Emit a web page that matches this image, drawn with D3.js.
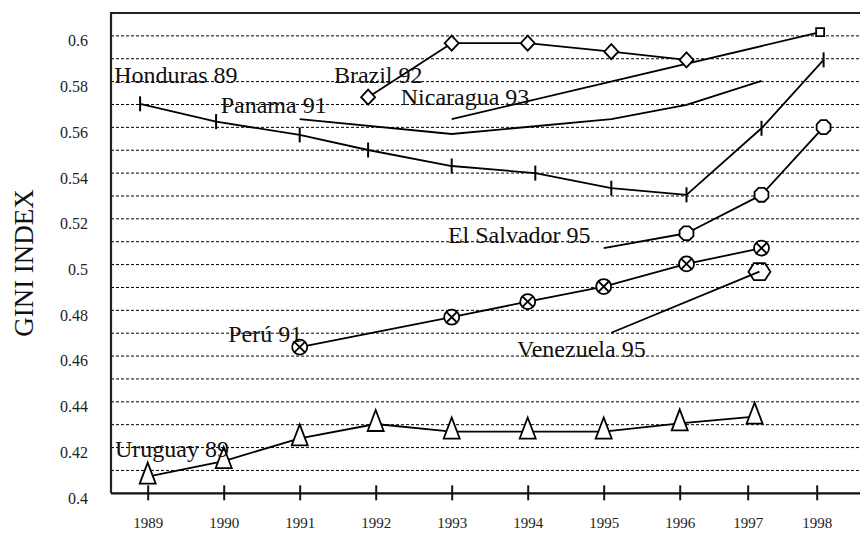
<!DOCTYPE html>
<html>
<head>
<meta charset="utf-8">
<script src="https://cdn.jsdelivr.net/npm/d3@7"></script>
<style>
  body { margin: 0; background: #fff; overflow: hidden; }
  svg { display: block; font-family: "Liberation Serif", "Times New Roman", serif; }
</style>
</head>
<body>
<div id="chart"></div>
<script>
// survey dates are fractional years, so points sit a little off the year ticks
var years = [1989, 1990, 1991, 1992, 1993, 1994, 1995, 1996, 1997, 1998];
var yTicks = [0.4, 0.42, 0.44, 0.46, 0.48, 0.5, 0.52, 0.54, 0.56, 0.58, 0.6];
var yTickLabels = ["0.4", "0.42", "0.44", "0.46", "0.48", "0.5", "0.52", "0.54", "0.56", "0.58", "0.6"];
var gridValues = d3.range(41, 61).map(function(d) { return d / 100; });

var hondurasYears = [1988.9, 1989.9, 1991.0, 1991.9, 1993.0, 1994.1, 1995.1, 1996.1, 1997.2, 1998.1];
var hondurasGini = [0.5703, 0.5625, 0.5567, 0.5501, 0.5431, 0.5400, 0.5334, 0.5305, 0.5596, 0.5895];

var brazilYears = [1991.9, 1993.0, 1994.0, 1995.1, 1996.1];
var brazilGini = [0.5732, 0.5968, 0.5968, 0.5931, 0.5895];

var nicaraguaYears = [1993.0, 1998.05];
var nicaraguaGini = [0.5636, 0.6016];

var panamaYears = [1991.0, 1993.0, 1995.1, 1996.1, 1997.2];
var panamaGini = [0.5636, 0.5571, 0.5636, 0.5698, 0.5803];

var salvadorYears = [1995.0, 1996.1, 1997.2, 1998.1];
var salvadorGini = [0.5072, 0.5137, 0.5305, 0.5601];

var peruYears = [1991.0, 1993.0, 1994.0, 1995.0, 1996.1, 1997.2];
var peruGini = [0.4639, 0.4770, 0.4838, 0.4904, 0.5003, 0.5072];

var venezuelaYears = [1995.1, 1997.17];
var venezuelaGini = [0.4702, 0.4969];

var uruguayYears = [1989.0, 1990.0, 1991.0, 1992.0, 1993.0, 1994.0, 1995.0, 1996.0, 1997.1];
var uruguayGini = [0.4073, 0.4141, 0.4240, 0.4303, 0.4270, 0.4270, 0.4270, 0.4306, 0.4335];

var labelNames = ["Honduras 89", "Brazil 92", "Panama 91", "Nicaragua 93", "El Salvador 95", "Perú 91", "Venezuela 95", "Uruguay 89"];
var labelYears = [1988.56, 1991.45, 1989.96, 1992.33, 1992.95, 1990.06, 1993.86, 1988.57];
var labelGini = [0.5793, 0.5794, 0.5664, 0.5698, 0.5096, 0.4663, 0.4597, 0.4160];

function zipSeries(xs, ys) {
  return xs.map(function(x, i) { return { x: x, y: ys[i] }; });
}

var series = [
  { values: zipSeries(hondurasYears, hondurasGini), marker: 'tick', first: 0 },
  { values: zipSeries(brazilYears, brazilGini), marker: 'diamond', first: 0 },
  { values: zipSeries(nicaraguaYears, nicaraguaGini), marker: 'square', first: 1 },
  { values: zipSeries(panamaYears, panamaGini), marker: null, first: 0 },
  { values: zipSeries(salvadorYears, salvadorGini), marker: 'octagon', first: 1 },
  { values: zipSeries(peruYears, peruGini), marker: 'xcircle', first: 0 },
  { values: zipSeries(venezuelaYears, venezuelaGini), marker: 'hexagon', first: 1 },
  { values: zipSeries(uruguayYears, uruguayGini), marker: 'triangle', first: 0 }
];

var width = 860, height = 534;
var left = 111, right = 860;

var svg = d3.select('#chart').append('svg')
  .attr('width', width)
  .attr('height', height);

// the scanned axis is not evenly spaced after 1996
var x = d3.scaleLinear()
  .domain([1989, 1996, 1997, 1998])
  .range([147.7, 679.7, 747.7, 816.7]);

var y = d3.scaleLinear()
  .domain([0.4, 0.61])
  .range([493.3, 13]);

// dashed grid
svg.append('g')
  .selectAll('line')
  .data(gridValues)
  .enter()
  .append('line')
  .attr('x1', left)
  .attr('x2', right)
  .attr('y1', function(d) { return y(d); })
  .attr('y2', function(d) { return y(d); })
  .attr('stroke', '#000')
  .attr('stroke-width', 1)
  .attr('stroke-dasharray', '3,2');

// frame: left and top
svg.append('path')
  .attr('d', 'M' + right + ',' + y(0.61) + 'H' + left + 'V' + y(0.4))
  .attr('fill', 'none')
  .attr('stroke', '#222')
  .attr('stroke-width', 2.2);

// y axis labels
var yAxis = d3.axisLeft(y)
  .tickValues(yTicks)
  .tickFormat(function(d, i) { return yTickLabels[i]; })
  .tickSize(0)
  .tickPadding(23);

var gy = svg.append('g')
  .attr('transform', 'translate(' + left + ',0)')
  .call(yAxis);
gy.select('.domain').remove();
gy.selectAll('text')
  .attr('font-family', '"Liberation Serif", serif')
  .attr('font-size', 16)
  .attr('fill', '#222')
  .attr('dy', '0.62em');

// x axis
var xAxis = d3.axisBottom(x)
  .tickValues(years)
  .tickFormat(d3.format('d'))
  .tickSize(7);

var gx = svg.append('g')
  .attr('transform', 'translate(0,' + y(0.4) + ')')
  .call(xAxis);
gx.select('.domain')
  .attr('d', 'M' + left + ',0H' + right)
  .attr('stroke', '#111')
  .attr('stroke-width', 2.2);
gx.selectAll('.tick line')
  .attr('y1', -8)
  .attr('y2', 7)
  .attr('stroke', '#111')
  .attr('stroke-width', 2);
gx.selectAll('.tick text')
  .attr('font-family', '"Liberation Serif", serif')
  .attr('font-size', 15)
  .attr('fill', '#222')
  .attr('y', 24)
  .attr('dy', '0.71em');

// y axis title
svg.append('text')
  .attr('transform', 'translate(33,263) rotate(-90)')
  .attr('text-anchor', 'middle')
  .attr('font-size', 27)
  .attr('fill', '#111')
  .text('GINI INDEX');

// series lines
var line = d3.line()
  .x(function(d) { return x(d.x); })
  .y(function(d) { return y(d.y); });

svg.append('g')
  .selectAll('path')
  .data(series)
  .enter()
  .append('path')
  .attr('d', function(d) { return line(d.values); })
  .attr('fill', 'none')
  .attr('stroke', '#000')
  .attr('stroke-width', 1.8)
  .attr('stroke-linejoin', 'round');

function octagon(r) {
  var pts = d3.range(8).map(function(i) {
    var a = Math.PI / 8 + i * Math.PI / 4;
    return [r * Math.cos(a), r * Math.sin(a)];
  });
  return 'M' + pts.join('L') + 'Z';
}

var markerPaths = {
  tick: 'M0,-7.5V7.5',
  diamond: 'M0,-7.5L7,0L0,7.5L-7,0Z',
  square: 'M-4,-4h8v8h-8Z',
  octagon: octagon(7.5),
  xcircle: 'M-5.3,-5.3L5.3,5.3M5.3,-5.3L-5.3,5.3',
  hexagon: 'M-11,0L-5.5,-8.5L5.5,-8.5L11,0L5.5,8.5L-5.5,8.5Z',
  triangle: 'M0,-14L8,7L-8,7Z'
};

series.forEach(function(s) {
  if (!s.marker) return;
  var pts = s.values.slice(s.first);
  var g = svg.append('g')
    .selectAll('g')
    .data(pts)
    .enter()
    .append('g')
    .attr('transform', function(d) { return 'translate(' + x(d.x) + ',' + y(d.y) + ')'; });

  if (s.marker === 'xcircle') {
    g.append('circle')
      .attr('r', 7.5)
      .attr('fill', '#fff')
      .attr('stroke', '#000')
      .attr('stroke-width', 1.8);
  }
  g.append('path')
    .attr('d', markerPaths[s.marker])
    .attr('fill', (s.marker === 'hexagon' || s.marker === 'tick' || s.marker === 'xcircle') ? 'none' : '#fff')
    .attr('stroke', '#000')
    .attr('stroke-width', s.marker === 'tick' ? 2 : 1.8);
});

// country labels
svg.append('g')
  .selectAll('text')
  .data(labelNames)
  .enter()
  .append('text')
  .attr('x', function(d, i) { return x(labelYears[i]); })
  .attr('y', function(d, i) { return y(labelGini[i]); })
  .attr('font-size', 24)
  .attr('fill', '#111')
  .text(function(d) { return d; });
</script>
</body>
</html>
